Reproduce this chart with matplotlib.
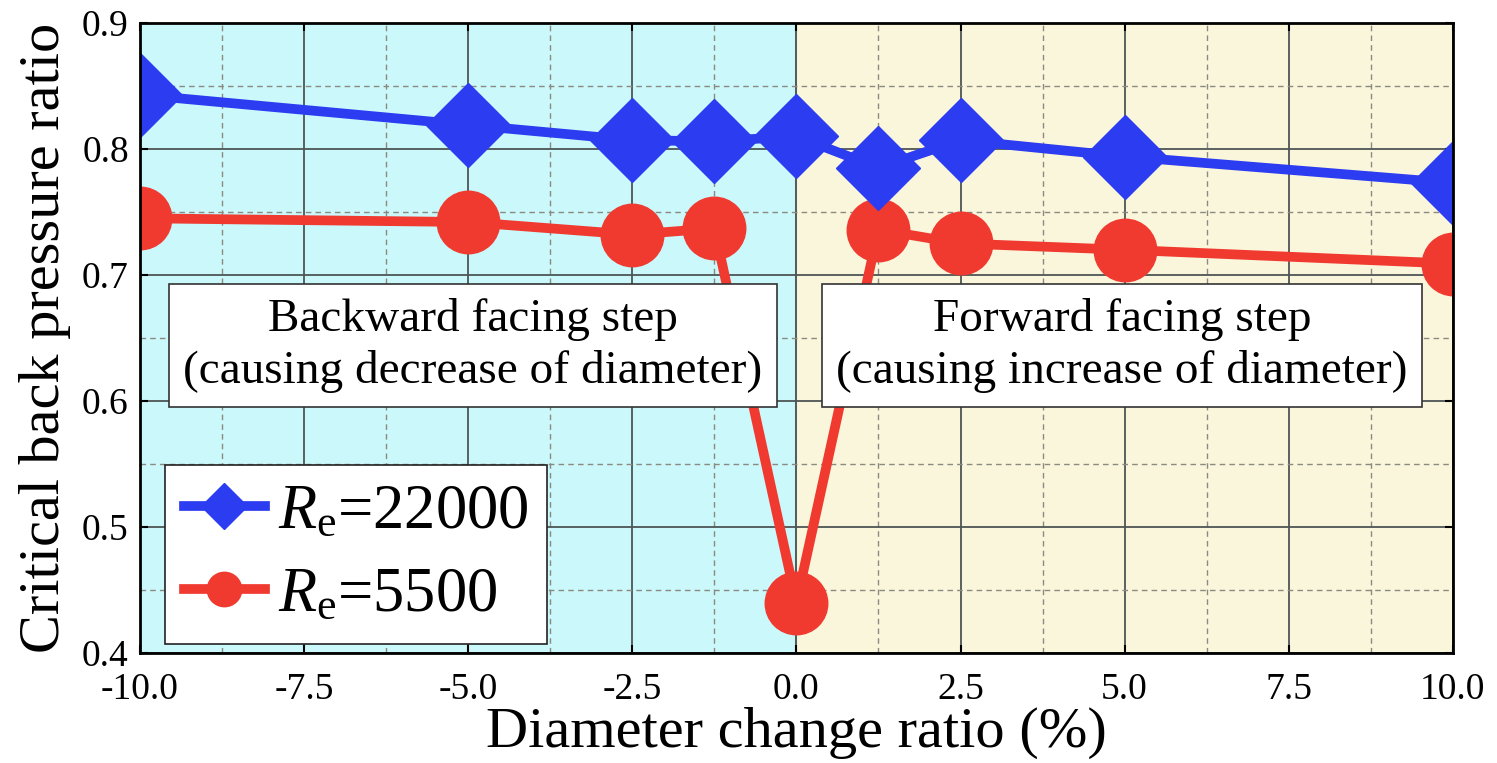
#!/usr/bin/env python3

import matplotlib
matplotlib.use('Agg')
import matplotlib.pyplot as plt
from matplotlib.ticker import MultipleLocator, FormatStrFormatter

# diameter change ratio (%)
ratio = [-10.0, -5.0, -2.5, -1.25, 0.0, 1.25, 2.5, 5.0, 10.0]
# critical back pressure ratio
re_22000 = [0.843, 0.819, 0.807, 0.806, 0.810, 0.785, 0.807, 0.794, 0.773]
re_5500 = [0.745, 0.742, 0.732, 0.737, 0.440, 0.736, 0.725, 0.720, 0.709]

labels = [r'$R_\mathrm{e}$=22000', r'$R_\mathrm{e}$=5500']
box_left = 'Backward facing step\n(causing decrease of diameter)'
box_right = 'Forward facing step\n(causing increase of diameter)'


def main():
    plt.rcParams['font.family'] = ['Liberation Serif', 'DejaVu Serif']
    plt.rcParams['mathtext.fontset'] = 'custom'
    plt.rcParams['mathtext.rm'] = 'Liberation Serif'
    plt.rcParams['mathtext.it'] = 'Liberation Serif:italic'
    plt.rcParams['axes.unicode_minus'] = False

    fig = plt.figure(figsize=(14.97, 7.63), dpi=100)
    ax = fig.add_axes([0.0935, 0.144, 0.877, 0.826])

    # shaded halves
    ax.axvspan(-10, 0, color='#cbf8fb', zorder=0)
    ax.axvspan(0, 10, color='#faf6dc', zorder=0)
    ax.axvline(0, color='#8fb8b8', lw=1.5, zorder=1)

    ax.plot(ratio, re_22000, color='#2c3cf0', lw=7, marker='D', ms=43,
            label=labels[0], zorder=4, solid_joinstyle='miter')
    ax.plot(ratio, re_5500, color='#f03a30', lw=7, marker='o', ms=45,
            label=labels[1], zorder=3)

    ax.set_xlim(-10, 10)
    ax.set_ylim(0.4, 0.9)
    ax.xaxis.set_major_locator(MultipleLocator(2.5))
    ax.xaxis.set_minor_locator(MultipleLocator(1.25))
    ax.yaxis.set_major_locator(MultipleLocator(0.1))
    ax.yaxis.set_minor_locator(MultipleLocator(0.05))
    ax.xaxis.set_major_formatter(FormatStrFormatter('%.1f'))
    ax.yaxis.set_major_formatter(FormatStrFormatter('%.1f'))

    ax.grid(which='major', color='#4d5555', lw=1.3)
    ax.grid(which='minor', color='#8a8a80', lw=1, ls=(0, (4, 3)))
    for line in ax.get_xgridlines() + ax.get_ygridlines():
        line.set_zorder(2)

    ax.tick_params(which='both', direction='in', top=True, right=True,
                   labelsize=27)
    ax.tick_params(axis='x', pad=14)
    ax.tick_params(axis='y', pad=8)
    ax.tick_params(which='major', length=6, width=1.5)
    ax.tick_params(which='minor', length=0)
    for s in ax.spines.values():
        s.set_linewidth(2)
        s.set_zorder(6)

    ax.set_xlabel('Diameter change ratio (%)', fontsize=42, labelpad=0)
    ax.set_ylabel('Critical back pressure ratio', fontsize=42, labelpad=8)

    box = dict(boxstyle='square,pad=0.3', fc='white', ec='#333333', lw=1.2)
    ax.text(-4.93, 0.644, box_left, ha='center', va='center', fontsize=34,
            linespacing=1.25, bbox=box, zorder=7)
    ax.text(4.96, 0.644, box_right, ha='center', va='center', fontsize=34,
            linespacing=1.25, bbox=box, zorder=7)

    leg = ax.legend(loc='lower left', bbox_to_anchor=(0.012, 0.0), fontsize=45,
                    markerscale=0.55, handlelength=1.3, fancybox=False,
                    framealpha=1, edgecolor='#222222', borderpad=0.3,
                    labelspacing=0.4, handletextpad=0.2, borderaxespad=0.15)
    leg.get_frame().set_linewidth(1.2)
    leg.set_zorder(7)

    plt.savefig('out.png', dpi=100)


if __name__ == '__main__':
    main()
